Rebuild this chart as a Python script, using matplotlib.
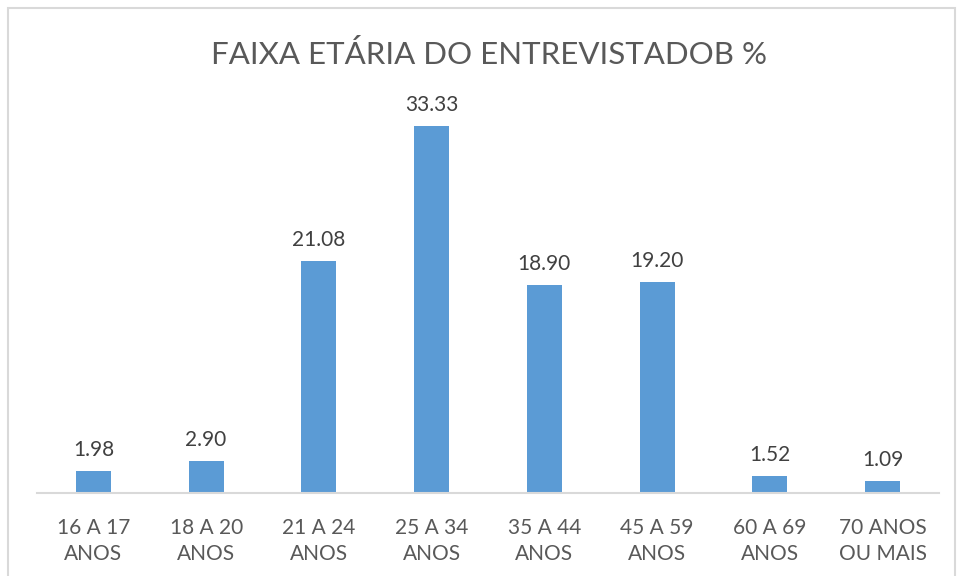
import matplotlib
matplotlib.use("Agg")
import matplotlib.pyplot as plt
from matplotlib.patches import Rectangle

categories = ["16 A 17\nANOS", "18 A 20\nANOS", "21 A 24\nANOS", "25 A 34\nANOS",
              "35 A 44\nANOS", "45 A 59\nANOS", "60 A 69\nANOS", "70 ANOS\nOU MAIS"]
values = [1.98, 2.90, 21.08, 33.33, 18.90, 19.20, 1.52, 1.09]
labels = ["1.98", "2.90", "21.08", "33.33", "18.90", "19.20", "1.52", "1.09"]
title = "FAIXA ETÁRIA DO ENTREVISTADOB %"

plt.rcParams['font.family'] = ['Lato', 'DejaVu Sans']
txt = '#595959'

fig = plt.figure(figsize=(9.58, 5.76), dpi=100)
fig.patch.set_facecolor('white')
W, H = 958, 576
ax = fig.add_axes([37 / W, 83 / H, (939 - 37) / W, (493 - 97) / H])
x = list(range(len(values)))
ax.bar(x, values, width=0.31, color='#5B9BD5', zorder=2)
ax.set_xlim(-0.5, len(values) - 0.5)
ax.set_ylim(0, 36)
for xi, v, l in zip(x, values, labels):
    ax.text(xi, v + 1.0, l, ha='center', va='bottom', fontsize=15, color='#404040')
ax.set_xticks(x)
ax.set_xticklabels(categories, fontsize=15, color=txt, linespacing=1.4)
ax.tick_params(axis='x', length=0, pad=18)
ax.set_yticks([])
for s in ['top', 'right', 'left']:
    ax.spines[s].set_visible(False)
ax.spines['bottom'].set_color('#D9D9D9')
ax.spines['bottom'].set_linewidth(1.5)

fig.text(489 / W, 1 - 55 / H, title, ha='center', va='center', fontsize=22.5, color=txt)
fig.patches.append(Rectangle((8 / W, -0.01), (955 - 8) / W, 1 - 8 / H + 0.01,
                             transform=fig.transFigure, fill=False,
                             edgecolor='#D9D9D9', linewidth=1.5))
fig.savefig('out.png', dpi=100)
